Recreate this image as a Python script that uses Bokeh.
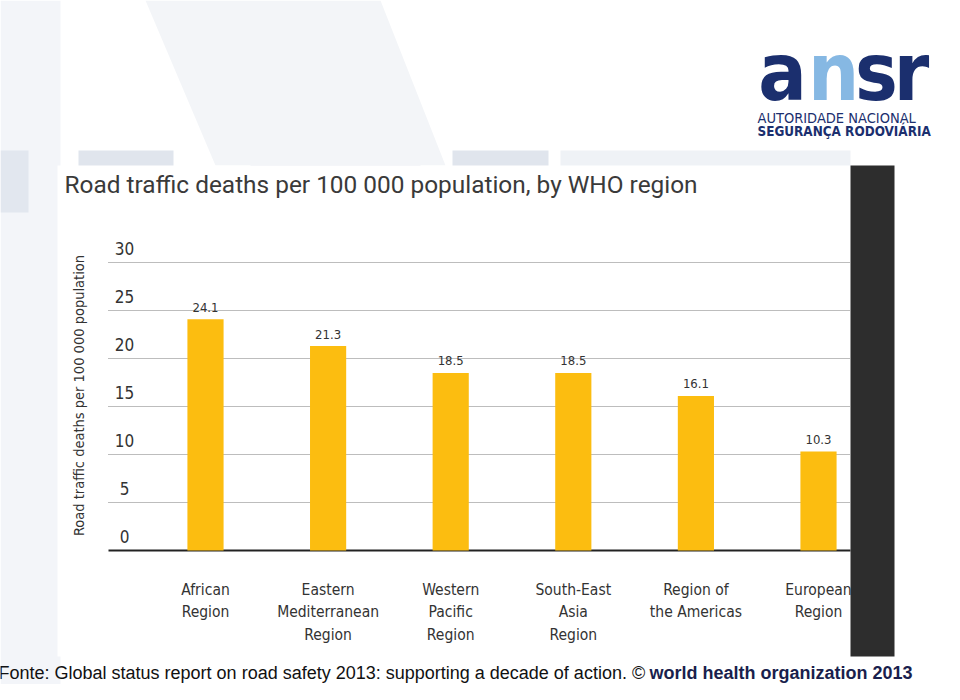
import math
from bokeh.plotting import figure
from bokeh.models import Range1d, Label, BoxAnnotation, PolyAnnotation, ColumnDataSource
from bokeh.core.properties import value
from bokeh.embed import file_html
from bokeh.resources import INLINE

# ---- data ----
regions = ["African\nRegion", "Eastern\nMediterranean\nRegion", "Western\nPacific\nRegion",
           "South-East\nAsia\nRegion", "Region of\nthe Americas", "European\nRegion"]
deaths = [24.1, 21.3, 18.5, 18.5, 16.1, 10.3]
value_labels = ["24.1", "21.3", "18.5", "18.5", "16.1", "10.3"]
y_ticks = [0, 5, 10, 15, 20, 25, 30]
y_tick_labels = ["0", "5", "10", "15", "20", "25", "30"]

title = "Road traffic deaths per 100 000 population, by WHO region"
y_title = "Road traffic deaths per 100 000 population"
source_plain = "Fonte: Global status report on road safety 2013: supporting a decade of action. \u00a9 "
source_bold = "world health organization 2013"

# ---- layout ----
W, H = 944, 684
PX_PER_CAT = 122.6
PX_PER_UNIT = 9.6
CAT0_X = 205          # px of first category centre
ZERO_Y = 550          # px (from top) of value 0

x0 = -CAT0_X / PX_PER_CAT
x1 = (W - CAT0_X) / PX_PER_CAT
y0 = -(H - ZERO_Y) / PX_PER_UNIT
y1 = ZERO_Y / PX_PER_UNIT

def dx(px):
    return x0 + px / PX_PER_CAT

def sx(px):
    return px

def sy(py):
    return H - py

COND_NAME = "DejaVu Sans Condensed"
COND = value(COND_NAME)
BAR = "#fcbd10"
NAVY = "#1b2f6e"

p = figure(width=W, height=H, output_backend="svg", toolbar_location=None,
           x_range=Range1d(x0, x1), y_range=Range1d(y0, y1),
           x_axis_type=None, y_axis_type=None, min_border=0,
           background_fill_color="white", border_fill_color="white")
p.outline_line_color = None
p.grid.visible = False

# ---- faint slide background ----
def box(l, r, t, b, color, alpha=1.0, level="underlay"):
    p.add_layout(BoxAnnotation(left=sx(l), right=sx(r), top=sy(t), bottom=sy(b),
                               left_units="screen", right_units="screen",
                               top_units="screen", bottom_units="screen",
                               fill_color=color, fill_alpha=alpha, line_color=None,
                               level=level))

box(0, 60, 0, 700, "#f3f5f9")
box(0, 28, 150, 212, "#e2e7ef")
box(78, 173, 150, 166, "#e0e5ed")
box(250, 420, 150, 166, "#e0e5ed")
box(452, 548, 150, 166, "#e0e5ed")
box(560, 850, 150, 166, "#eff2f6")
p.add_layout(PolyAnnotation(xs=[sx(145), sx(380), sx(445), sx(215)],
                            ys=[sy(0), sy(0), sy(165), sy(165)],
                            xs_units="screen", ys_units="screen",
                            fill_color="#f3f5f8", fill_alpha=1.0, line_color=None,
                            level="underlay"))
box(57, 850, 165, 656, "white")
box(850, 894, 165, 656, "#2d2d2d", level="annotation")

# ---- gridlines ----
grid_src = ColumnDataSource(dict(y=y_ticks[1:]))
p.segment(x0=dx(108), x1=dx(850), y0="y", y1="y", source=grid_src,
          line_color="#7a7a7a", line_width=1, line_dash="1 1")
p.segment(x0=dx(108), x1=dx(850), y0=0, y1=0, line_color="#222222", line_width=2)

# ---- bars ----
cats = list(range(len(regions)))
src = ColumnDataSource(dict(x=cats, top=deaths, lab=value_labels, name=regions))
p.vbar(x="x", top="top", bottom=0, width=0.295, source=src, fill_color=BAR, line_color=None)

p.text(x="x", y="top", text="lab", source=src, text_align="center", text_baseline="middle",
       y_offset=-12, text_font=COND, text_font_size="13px", text_color="#333333")

p.text(x="x", y=0, text="name", source=src, text_align="center", text_baseline="top",
       y_offset=30, text_font=COND, text_font_size="15.5px", text_color="#333333",
       text_line_height=1.26)

# ---- y tick labels ----
tsrc = ColumnDataSource(dict(y=y_ticks, t=y_tick_labels))
p.text(x=dx(124), y="y", text="t", source=tsrc, text_align="center", text_baseline="middle",
       y_offset=-14, text_font=COND, text_font_size="17px", text_color="#333333")

# ---- titles ----
p.add_layout(Label(x=sx(78), y=sy(395), x_units="screen", y_units="screen", text=y_title,
                   angle=math.pi / 2, text_align="center", text_baseline="middle",
                   text_font=COND_NAME, text_font_size="14.5px", text_color="#333333"))
p.add_layout(Label(x=sx(64), y=sy(184), x_units="screen", y_units="screen", text=title,
                   text_align="left", text_baseline="middle",
                   text_font="Roboto", text_font_size="24.4px", text_color="#3a3a3a"))

# ---- logo ----
for ch, cx, col in [("a", 782, NAVY), ("n", 833, "#86b8e3"), ("s", 876, NAVY), ("r", 911, NAVY)]:
    p.add_layout(Label(x=sx(cx), y=sy(72), x_units="screen", y_units="screen", text=ch,
                       text_align="center", text_baseline="alphabetic",
                       text_font=COND_NAME, text_font_style="bold", text_font_size="80px",
                       text_color=col))
p.add_layout(Label(x=sx(757), y=sy(117), x_units="screen", y_units="screen",
                   text="AUTORIDADE NACIONAL", text_align="left", text_baseline="middle",
                   text_font=COND_NAME, text_font_size="14.5px", text_color=NAVY))
p.add_layout(Label(x=sx(757), y=sy(131), x_units="screen", y_units="screen",
                   text="SEGURAN\u00c7A RODOVI\u00c1RIA", text_align="left", text_baseline="middle",
                   text_font=COND_NAME, text_font_style="bold",
                   text_font_size="13.4px", text_color=NAVY))

# ---- source footer ----
p.add_layout(Label(x=sx(-2), y=sy(672), x_units="screen", y_units="screen", text=source_plain,
                   text_align="left", text_baseline="middle",
                   text_font="Liberation Sans", text_font_size="18px", text_color="#111111"))
p.add_layout(Label(x=sx(912), y=sy(672), x_units="screen", y_units="screen", text=source_bold,
                   text_align="right", text_baseline="middle",
                   text_font="Liberation Sans", text_font_style="bold",
                   text_font_size="18px", text_color="#1a1f4d"))

open("out.html", "w").write(file_html(p, INLINE))
